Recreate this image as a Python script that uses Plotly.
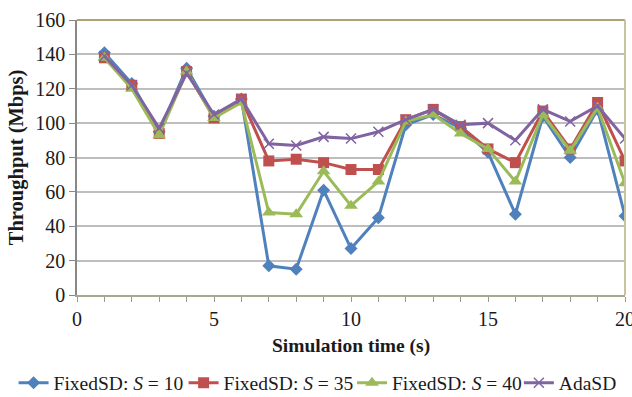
import plotly.graph_objects as go

# Simulation time (s)
time_s = list(range(1, 21))

# Throughput (Mbps) per scheme
fixed_s10 = [141, 123, 95, 132, 104, 114, 17, 15, 61, 27, 45, 99, 105, 97, 83, 47, 104, 80, 108, 46]
fixed_s35 = [138, 122, 94, 130, 103, 114, 78, 79, 77, 73, 73, 102, 108, 98, 85, 77, 107, 85, 112, 78]
fixed_s40 = [138, 120, 93, 130, 103, 112, 48, 47, 72, 52, 66, 101, 105, 94, 85, 66, 105, 84, 109, 65]
adasd = [139, 122, 97, 129, 105, 114, 88, 87, 92, 91, 95, 102, 108, 99, 100, 90, 108, 101, 110, 91]

series_names = ["FixedSD: <i>S</i> = 10", "FixedSD: <i>S</i> = 35",
                "FixedSD: <i>S</i> = 40", "AdaSD"]
x_ticks = [0, 5, 10, 15, 20]
y_ticks = [0, 20, 40, 60, 80, 100, 120, 140, 160]

styles = [
    dict(color="#4F81BD", symbol="diamond", size=10),
    dict(color="#C0504D", symbol="square", size=11),
    dict(color="#9BBB59", symbol="triangle-up", size=12),
    dict(color="#8064A2", symbol="x-thin-open", size=10),
]

font_family = "Liberation Serif"
text_color = "#1a1a1a"
tick_size = 20
title_size = 19.5
legend_size = 19.5

# one legend box per series so the row keeps a single line
legend_ids = ["legend", "legend2", "legend3", "legend4"]
legend_x = [0.0215, 0.2905, 0.557, 0.821]

fig = go.Figure()
for name, ys, st, lid in zip(series_names, [fixed_s10, fixed_s35, fixed_s40, adasd], styles, legend_ids):
    marker = dict(symbol=st["symbol"], size=st["size"], color=st["color"])
    if st["symbol"] == "x-thin-open":
        marker["line"] = dict(color=st["color"], width=1.5)
    fig.add_trace(go.Scatter(
        x=time_s, y=ys, name=name, mode="lines+markers",
        line=dict(color=st["color"], width=3),
        marker=marker, legend=lid,
    ))

legend_common = dict(orientation="h", xref="container", yref="container",
                     xanchor="left", y=0.035, yanchor="middle",
                     font=dict(family=font_family, size=legend_size, color=text_color),
                     itemwidth=30, bgcolor="rgba(0,0,0,0)")

fig.update_layout(
    width=632, height=397,
    margin=dict(l=77, r=7, t=20, b=102, autoexpand=False),
    paper_bgcolor="white", plot_bgcolor="white",
    font=dict(family=font_family, size=tick_size, color=text_color),
    showlegend=True,
    legend=dict(x=legend_x[0], **legend_common),
    legend2=dict(x=legend_x[1], **legend_common),
    legend3=dict(x=legend_x[2], **legend_common),
    legend4=dict(x=legend_x[3], **legend_common),
    xaxis=dict(
        range=[0, 20], tickvals=x_ticks, ticktext=[str(v) for v in x_ticks],
        showgrid=False, zeroline=False, automargin=False,
        showline=True, linecolor="#A8A890", linewidth=2,
        ticks="outside", ticklen=5, tickcolor="#999999", tickwidth=1,
        ticklabelstandoff=0, ticklabeloverflow="allow",
    ),
    yaxis=dict(
        range=[0, 160], tickvals=y_ticks, automargin=False,
        showgrid=True, gridcolor="#BEBEBE", gridwidth=1.5, zeroline=False,
        showline=True, linecolor="#888888", linewidth=1.5,
        ticks="outside", ticklen=6, tickcolor="#888888",
    ),
    annotations=[
        dict(text="<b>Simulation time (s)</b>", xref="paper", yref="paper",
             x=0.5, y=-0.185, xanchor="center", yanchor="middle", showarrow=False,
             font=dict(family=font_family, size=title_size, color=text_color)),
        dict(text="<b>Throughput (Mbps)</b>", xref="paper", yref="paper",
             x=-0.11, y=0.5, xanchor="center", yanchor="middle", textangle=-90,
             showarrow=False, font=dict(family=font_family, size=20.5, color=text_color)),
    ],
)

# minor x ticks at every second
fig.update_xaxes(minor=dict(dtick=1, ticks="outside", ticklen=5, tickcolor="#999999", showgrid=False))

# plot frame: top and right edges
fig.add_shape(type="line", xref="paper", yref="paper", x0=0, x1=1, y0=1, y1=1,
              line=dict(color="#8C8448", width=1.5))
fig.add_shape(type="line", xref="paper", yref="paper", x0=1, x1=1, y0=0, y1=1,
              line=dict(color="#CBC3A0", width=2))

fig.write_html("out.html")
